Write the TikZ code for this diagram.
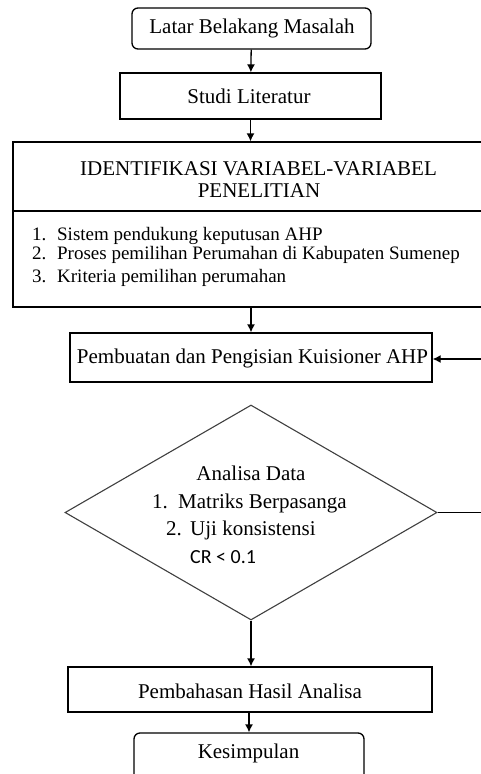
\documentclass[tikz,border=0pt]{standalone}
\usepackage{fontspec}
\setmainfont{Liberation Serif}
\newfontfamily\calib{Carlito}
\usetikzlibrary{shapes.geometric,arrows.meta}
\begin{document}
\begin{tikzpicture}[x=1pt,y=-1pt,
  every node/.style={font=\fontsize{21}{24}\selectfont},
  box/.style={draw,line width=1.3pt,inner sep=0pt},
  rbox/.style={box,rounded corners=6pt},
  arr/.style={line width=1.3pt,-{Latex[length=8pt,width=8pt]}},
  txt/.style={inner sep=0pt,anchor=base},
  ltxt/.style={inner sep=0pt,anchor=base west,font=\fontsize{19}{22}\selectfont}]
\useasboundingbox[fill=white] (0,0) rectangle (481,774);
% boxes
\node[rbox,minimum width=239pt,minimum height=41pt] (b1) at (251.5,28.5) {};
\node[txt] (t1) at (252,33) {Latar Belakang Masalah};
\node[box,minimum width=261pt,minimum height=46pt] (b2) at (250.5,96) {};
\node[txt] (t2) at (249,103) {Studi Literatur};
\node[box,minimum width=480pt,minimum height=165pt] (b3) at (253,224.5) {};
\coordinate (dl) at (13,211);
\coordinate (dr) at (495,211);
\draw[line width=1.3pt] (dl) -- (dr);
\node[txt] (h1) at (258.5,175) {IDENTIFIKASI VARIABEL-VARIABEL};
\node[txt] (h2) at (259,197) {PENELITIAN};
\node[ltxt] (l1) at (32,240) {\makebox[25pt][l]{1.}Sistem pendukung keputusan AHP};
\node[ltxt] (l2) at (32,259) {\makebox[25pt][l]{2.}Proses pemilihan Perumahan di Kabupaten Sumenep};
\node[ltxt] (l3) at (32,282) {\makebox[25pt][l]{3.}Kriteria pemilihan perumahan};
\node[box,minimum width=362pt,minimum height=49pt] (b4) at (251,357.5) {};
\node[txt] (t4) at (252.5,363) {Pembuatan dan Pengisian Kuisioner AHP};
\node[draw=black!75,line width=1.1pt,diamond,minimum width=372pt,minimum height=215pt,aspect=1.73,inner sep=0pt] (d) at (251,512.5) {};
\node[txt] (a1) at (251,480) {Analisa Data};
\node[txt,anchor=base west] (a2) at (152,508) {\makebox[26pt][l]{1.}Matriks Berpasanga};
\node[txt,anchor=base west] (a3) at (166,535) {\makebox[24pt][l]{2.}Uji konsistensi};
\node[txt,anchor=base west,font=\calib\fontsize{20}{22}\selectfont] (a4) at (190,563) {CR < 0.1};
\node[box,minimum width=364pt,minimum height=45pt] (b5) at (250,689.5) {};
\node[txt] (t5) at (250,698) {Pembahasan Hasil Analisa};
\node[rbox,minimum width=230pt,minimum height=50pt] (b6) at (249,758) {};
\node[txt] (t6) at (248.5,758) {Kesimpulan};
% connectors
\draw[arr] (b1) -- (b2);
\draw[arr] (b2) -- (b3.north -| b2);
\draw[arr] (b3.south -| b4) -- (b4);
\coordinate (fb1) at (495,512.5);
\coordinate (fb2) at (495,359);
\draw[line width=1.3pt] (d.east) -- (fb1);
\draw[arr] (fb2) -- (b4.east |- fb2);
\draw[arr] (d.south) -- (b5.north -| d.south);
\draw[arr] (b5.south -| b6.north) -- (b6.north);
\end{tikzpicture}
\end{document}
